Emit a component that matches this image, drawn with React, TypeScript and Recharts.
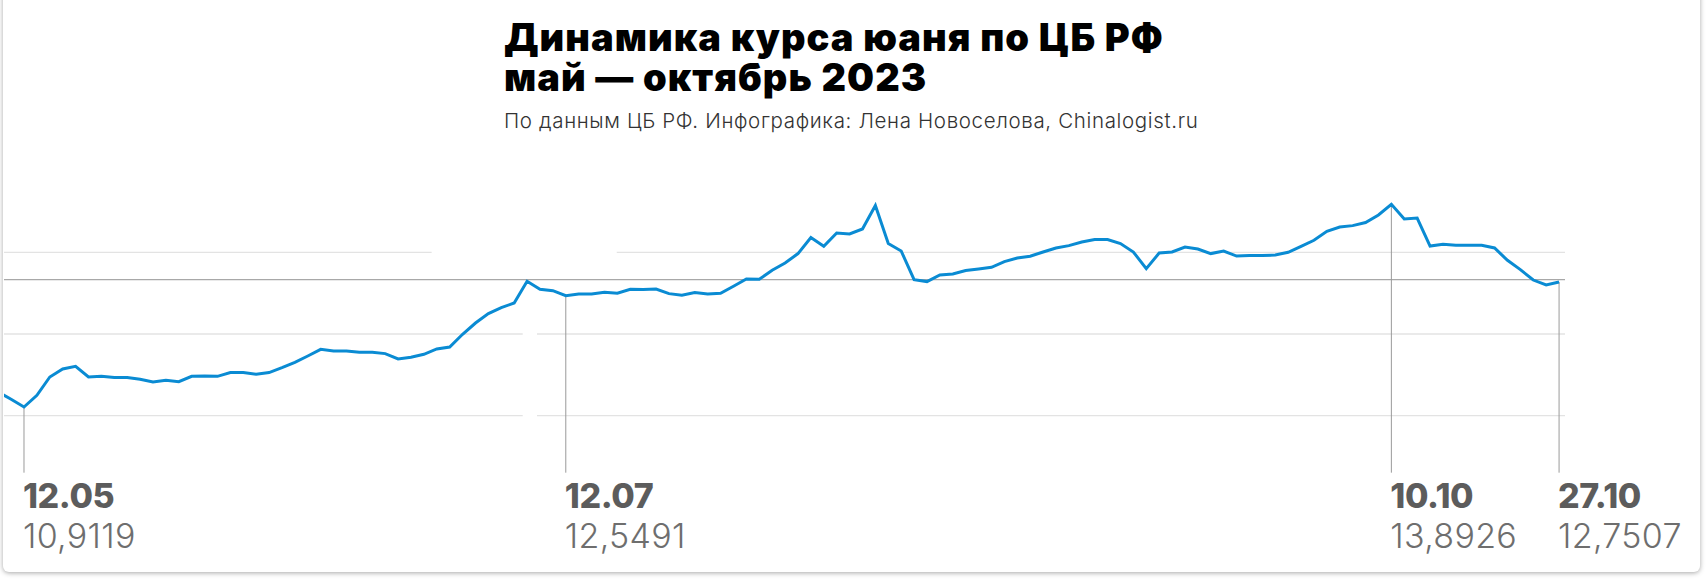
import { LineChart, Line, XAxis, YAxis, ReferenceLine } from "recharts";

// CNY/RUB official rate, one value per trading day; first value is two days before 12.05
const FIRST_INDEX = -2;
const rates = [
  11.132, 11.025, 10.9119, 11.084, 11.353, 11.471, 11.51, 11.353, 11.363, 11.344,
  11.344, 11.319, 11.279, 11.304, 11.285, 11.363, 11.368, 11.363, 11.418, 11.418,
  11.393, 11.418, 11.491, 11.569, 11.662, 11.76, 11.735, 11.735, 11.716, 11.716,
  11.697, 11.618, 11.643, 11.687, 11.765, 11.794, 11.981, 12.147, 12.285, 12.373,
  12.441, 12.76, 12.643, 12.623, 12.5491, 12.573, 12.573, 12.599, 12.584, 12.643,
  12.638, 12.647, 12.579, 12.554, 12.596, 12.573, 12.584, 12.687, 12.794, 12.79,
  12.922, 13.03, 13.168, 13.403, 13.275, 13.471, 13.456, 13.53, 13.874, 13.315,
  13.206, 12.785, 12.756, 12.853, 12.868, 12.918, 12.941, 12.966, 13.05, 13.103,
  13.128, 13.191, 13.25, 13.285, 13.338, 13.374, 13.374, 13.315, 13.191, 12.947,
  13.176, 13.191, 13.265, 13.235, 13.168, 13.206, 13.132, 13.138, 13.138, 13.147,
  13.187, 13.275, 13.363, 13.496, 13.559, 13.579, 13.624, 13.735, 13.8926, 13.677,
  13.691, 13.279, 13.304, 13.29, 13.29, 13.29, 13.25, 13.069, 12.932, 12.779,
  12.706, 12.7507,
];

const calloutIndex = [0, 42, 106, 119];
const calloutDates = ["12.05", "12.07", "10.10", "27.10"];

const gridValues = [10.785, 11.985, 13.185];
const baseValue = 12.785;
// white gaps in the guide lines (in day-index units)
const topGridGap = [31.6, 45.95];
const lowGridGap = [38.66, 39.77];

const X_DOMAIN: [number, number] = [-1.55, 119.46];
const Y_DOMAIN: [number, number] = [10.5, 14.5];
const LABEL_FLOOR = 9.946;

const LINE_COLOR = "#0a8bd3";
const FONT = "Inter, 'Open Sans', sans-serif";

const data = rates.map((v, k) => ({ i: k + FIRST_INDEX, v }));

const fmt = (v: number) => v.toFixed(4).replace(".", ",");

const renderCallout =
  (date: string, value: string) =>
  // eslint-disable-next-line @typescript-eslint/no-explicit-any
  (props: any) => {
    const vb = props.viewBox || {};
    const x = vb.x;
    const bottom = vb.y + vb.height;
    return (
      <g>
        <text
          x={x - 1}
          y={bottom + 35}
          fontSize={34}
          fontWeight={800}
          fill="#5c5c5c"
          fontFamily={FONT}
          letterSpacing={-0.4}
        >
          {date}
        </text>
        <text
          x={x - 1}
          y={bottom + 75}
          fontSize={34}
          fontWeight={300}
          fill="#6e6e6e"
          fontFamily={FONT}
          letterSpacing={0.3}
        >
          {value}
        </text>
      </g>
    );
  };

function gridSegments(value: number, gap: number[]) {
  return [
    [X_DOMAIN[0], gap[0]],
    [gap[1], X_DOMAIN[1]],
  ].map(([a, b]) => ({ value, a, b }));
}

const titleStyle = {
  position: "absolute" as const,
  left: 504,
  fontSize: 38,
  lineHeight: "38px",
  fontWeight: 900,
  color: "#000",
  letterSpacing: 1.05,
  whiteSpace: "nowrap" as const,
};

export default function App() {
  const segs = [
    ...gridSegments(gridValues[0], lowGridGap),
    ...gridSegments(gridValues[1], lowGridGap),
    ...gridSegments(gridValues[2], topGridGap),
  ];

  return (
    <div
      style={{
        position: "absolute",
        left: 0,
        top: 0,
        width: 1708,
        height: 581,
        background: "#fff",
        overflow: "hidden",
        fontFamily: FONT,
      }}
    >
      <div
        style={{
          position: "absolute",
          left: 3,
          top: -10,
          width: 1697,
          height: 582,
          background: "#fff",
          borderRadius: 6,
          boxShadow: "0 1px 5px rgba(0,0,0,0.35)",
        }}
      />
      <div style={{ position: "absolute", left: 0, top: 0 }}>
        <LineChart
          width={1708}
          height={581}
          data={data}
          margin={{ top: 163, right: 143, bottom: 146, left: 4 }}
        >
          <XAxis
            type="number"
            dataKey="i"
            domain={X_DOMAIN}
            allowDataOverflow
            hide
          />
          <YAxis type="number" domain={Y_DOMAIN} allowDataOverflow hide />
          {segs.map((s, k) => (
            <ReferenceLine
              key={`g-${k}`}
              segment={[
                { x: s.a, y: s.value },
                { x: s.b, y: s.value },
              ]}
              stroke="#e3e3e3"
              strokeWidth={1.3}
            />
          ))}
          <ReferenceLine y={baseValue} stroke="#a8a8a8" strokeWidth={1.3} />
          {calloutIndex.map((idx, k) => (
            <ReferenceLine
              key={`c-${k}`}
              segment={[
                { x: idx, y: rates[idx - FIRST_INDEX] },
                { x: idx, y: LABEL_FLOOR },
              ]}
              ifOverflow="visible"
              stroke="#9a9a9a"
              strokeWidth={1}
              label={renderCallout(
                calloutDates[k],
                fmt(rates[idx - FIRST_INDEX])
              )}
            />
          ))}
          <Line
            type="linear"
            dataKey="v"
            stroke={LINE_COLOR}
            strokeWidth={3}
            dot={false}
            activeDot={false}
            isAnimationActive={false}
          />
        </LineChart>
      </div>
      <div style={{ ...titleStyle, top: 18 }}>Динамика курса юаня по ЦБ РФ</div>
      <div style={{ ...titleStyle, top: 57.5 }}>май — октябрь 2023</div>
      <div
        style={{
          position: "absolute",
          left: 504,
          top: 109,
          fontSize: 20.5,
          lineHeight: "24px",
          fontWeight: 300,
          color: "#333",
          letterSpacing: 0.65,
          whiteSpace: "nowrap",
        }}
      >
        По данным ЦБ РФ. Инфографика: Лена Новоселова, Chinalogist.ru
      </div>
    </div>
  );
}
